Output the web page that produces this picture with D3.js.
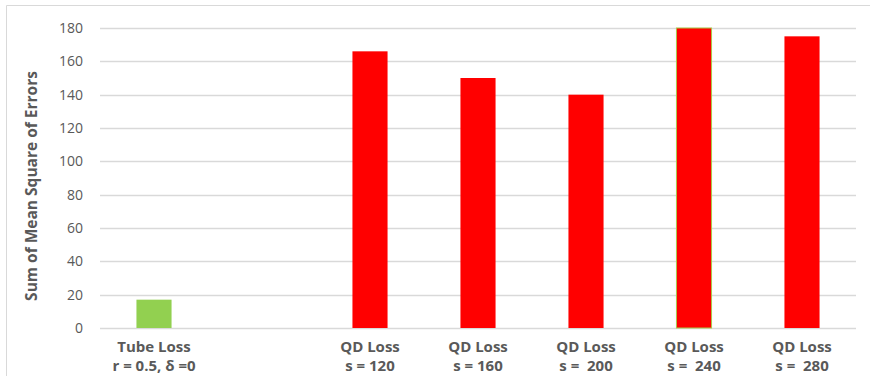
<!DOCTYPE html>
<html>
<head>
<meta charset="utf-8">
<script src="https://cdn.jsdelivr.net/npm/d3@7"></script>
<style>
  body { margin: 0; background: #fff; }
  text { font-family: "Open Sans", sans-serif; fill: #595959; }
</style>
</head>
<body>
<svg id="bar-chart" width="870" height="376"></svg>
<script>
// two-line category labels, one empty slot between the two loss families
let labelTop = ["Tube Loss", "", "QD Loss", "QD Loss", "QD Loss", "QD Loss", "QD Loss"];
let labelBottom = ["r = 0.5, δ =0", "", "s = 120", "s = 160", "s =  200", "s =  240", "s =  280"];
let values = [17, null, 166, 150, 140, 180, 175];
let barColors = ["#92d050", null, "#ff0000", "#ff0000", "#ff0000", "#ff0000", "#ff0000"];
let yTicks = [0, 20, 40, 60, 80, 100, 120, 140, 160, 180];

let svg = d3.select("svg#bar-chart"),
margin = { top: 28, right: 14, bottom: 48, left: 100 },
width = svg.attr("width") - margin.left - margin.right,
height = svg.attr("height") - margin.top - margin.bottom;

// chart area frame (only left and top edges show in the picture)
svg.append("path")
    .attr("d", "M6.5,376 V5.5 H870")
    .attr("fill", "none")
    .attr("stroke", "#d9d9d9");

let g = svg.append("g").attr("transform", `translate(${margin.left},${margin.top})`);

let idx = d3.range(values.length);

let x = d3.scaleBand()
    .domain(idx)
    .range([0, width])
    .paddingInner(0.675)
    .paddingOuter(0.3375);

let y = d3.scaleLinear().domain([0, 180]).range([height, 0]);

// gridlines
g.append("g")
    .selectAll("line")
    .data(yTicks)
    .enter()
    .append("line")
    .attr("x1", 0)
    .attr("x2", width)
    .attr("y1", d => Math.round(y(d)) + 0.5)
    .attr("y2", d => Math.round(y(d)) + 0.5)
    .attr("stroke", "#d9d9d9")
    .attr("stroke-width", 1.5);

// y axis labels
let yAxis = d3.axisLeft(y).tickValues(yTicks).tickSize(0).tickPadding(17);
g.append("g")
    .call(yAxis)
    .call(a => a.select(".domain").remove())
    .selectAll("text")
    .style("font-size", "14px")
    .attr("fill", "#595959");

svg.append("text")
    .attr("transform", `translate(37,${margin.top + height / 2 + 8}) rotate(-90)`)
    .attr("text-anchor", "middle")
    .style("font-size", "15.5px")
    .style("font-weight", "bold")
    .text("Sum of Mean Square of Errors");

// bars
let bars = idx.filter(i => values[i] != null);
g.selectAll(".bar")
    .data(bars)
    .enter()
    .append("rect")
    .attr("class", "bar")
    .attr("x", i => x(i))
    .attr("width", x.bandwidth())
    .attr("y", i => y(values[i]))
    .attr("height", i => height - y(values[i]))
    .attr("fill", i => barColors[i])
    .attr("stroke", i => i === 5 ? "#a9c94a" : "none")
    .attr("stroke-width", 1);

// category labels
let cat = g.selectAll(".cat")
    .data(idx.filter(i => labelTop[i] !== ""))
    .enter()
    .append("text")
    .attr("class", "cat")
    .attr("text-anchor", "middle")
    .style("font-size", "15px")
    .style("font-weight", "bold")
    .style("white-space", "pre")
    .attr("transform", i => `translate(${x(i) + x.bandwidth() / 2},${height})`);

cat.append("tspan").attr("x", 0).attr("y", 24).text(i => labelTop[i]);
cat.append("tspan").attr("x", 0).attr("y", 43).text(i => labelBottom[i]);
</script>
</body>
</html>
